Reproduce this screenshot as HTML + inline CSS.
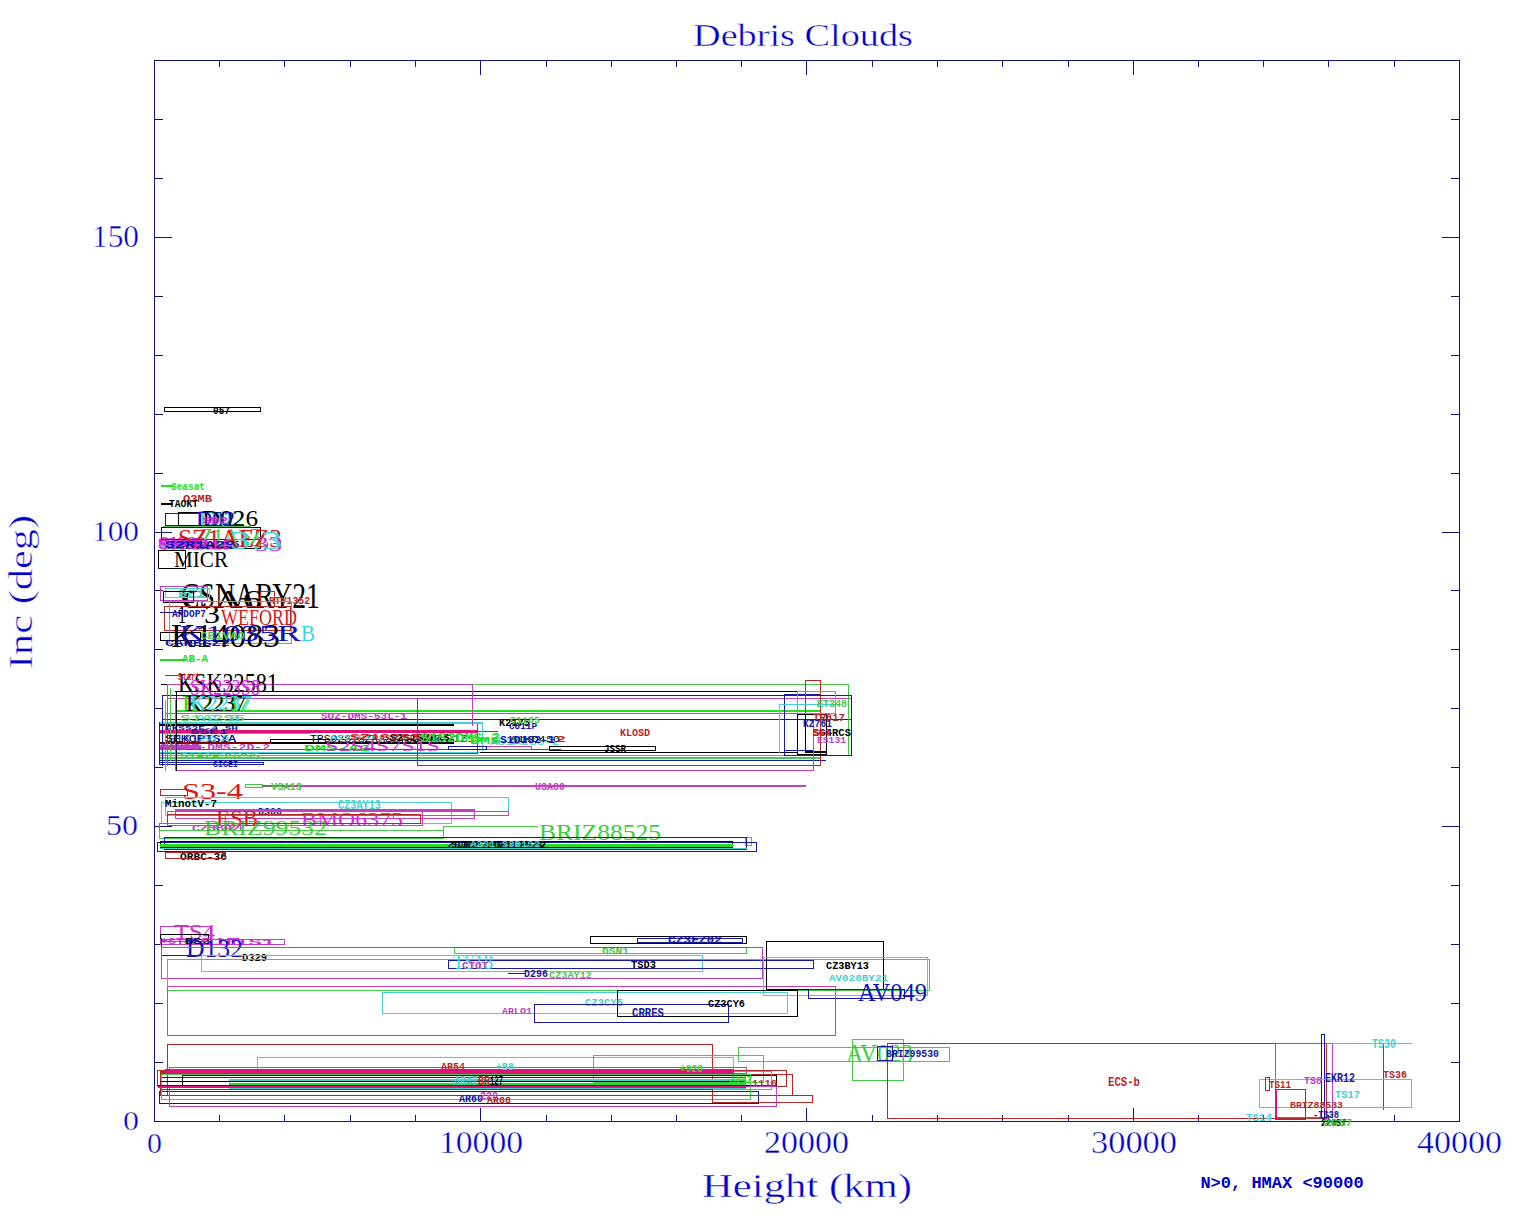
<!DOCTYPE html>
<html><head><meta charset="utf-8"><style>
html,body{margin:0;padding:0;background:#fff;width:1536px;height:1220px;overflow:hidden}
svg{display:block}
text{white-space:pre}
</style></head><body>
<svg width="1536" height="1220" viewBox="0 0 1536 1220" shape-rendering="crispEdges">
<rect x="0" y="0" width="1536" height="1220" fill="#fff"/>
<rect x="154.5" y="60.5" width="1305" height="1061" fill="none" stroke="#141478"/>
<rect x="219" y="60" width="1" height="7" fill="#141478"/>
<rect x="219" y="1115" width="1" height="7" fill="#141478"/>
<rect x="284" y="60" width="1" height="7" fill="#141478"/>
<rect x="284" y="1115" width="1" height="7" fill="#141478"/>
<rect x="350" y="60" width="1" height="7" fill="#141478"/>
<rect x="350" y="1115" width="1" height="7" fill="#141478"/>
<rect x="415" y="60" width="1" height="7" fill="#141478"/>
<rect x="415" y="1115" width="1" height="7" fill="#141478"/>
<rect x="480" y="60" width="1" height="15" fill="#141478"/>
<rect x="480" y="1108" width="1" height="14" fill="#141478"/>
<rect x="546" y="60" width="1" height="7" fill="#141478"/>
<rect x="546" y="1115" width="1" height="7" fill="#141478"/>
<rect x="611" y="60" width="1" height="7" fill="#141478"/>
<rect x="611" y="1115" width="1" height="7" fill="#141478"/>
<rect x="676" y="60" width="1" height="7" fill="#141478"/>
<rect x="676" y="1115" width="1" height="7" fill="#141478"/>
<rect x="741" y="60" width="1" height="7" fill="#141478"/>
<rect x="741" y="1115" width="1" height="7" fill="#141478"/>
<rect x="806" y="60" width="1" height="15" fill="#141478"/>
<rect x="806" y="1108" width="1" height="14" fill="#141478"/>
<rect x="872" y="60" width="1" height="7" fill="#141478"/>
<rect x="872" y="1115" width="1" height="7" fill="#141478"/>
<rect x="937" y="60" width="1" height="7" fill="#141478"/>
<rect x="937" y="1115" width="1" height="7" fill="#141478"/>
<rect x="1002" y="60" width="1" height="7" fill="#141478"/>
<rect x="1002" y="1115" width="1" height="7" fill="#141478"/>
<rect x="1068" y="60" width="1" height="7" fill="#141478"/>
<rect x="1068" y="1115" width="1" height="7" fill="#141478"/>
<rect x="1133" y="60" width="1" height="15" fill="#141478"/>
<rect x="1133" y="1108" width="1" height="14" fill="#141478"/>
<rect x="1198" y="60" width="1" height="7" fill="#141478"/>
<rect x="1198" y="1115" width="1" height="7" fill="#141478"/>
<rect x="1263" y="60" width="1" height="7" fill="#141478"/>
<rect x="1263" y="1115" width="1" height="7" fill="#141478"/>
<rect x="1328" y="60" width="1" height="7" fill="#141478"/>
<rect x="1328" y="1115" width="1" height="7" fill="#141478"/>
<rect x="1394" y="60" width="1" height="7" fill="#141478"/>
<rect x="1394" y="1115" width="1" height="7" fill="#141478"/>
<rect x="154" y="1062" width="9" height="1" fill="#141478"/>
<rect x="1451" y="1062" width="9" height="1" fill="#141478"/>
<rect x="154" y="1003" width="9" height="1" fill="#141478"/>
<rect x="1451" y="1003" width="9" height="1" fill="#141478"/>
<rect x="154" y="944" width="9" height="1" fill="#141478"/>
<rect x="1451" y="944" width="9" height="1" fill="#141478"/>
<rect x="154" y="885" width="9" height="1" fill="#141478"/>
<rect x="1451" y="885" width="9" height="1" fill="#141478"/>
<rect x="154" y="826" width="18" height="1" fill="#141478"/>
<rect x="1442" y="826" width="18" height="1" fill="#141478"/>
<rect x="154" y="767" width="9" height="1" fill="#141478"/>
<rect x="1451" y="767" width="9" height="1" fill="#141478"/>
<rect x="154" y="708" width="9" height="1" fill="#141478"/>
<rect x="1451" y="708" width="9" height="1" fill="#141478"/>
<rect x="154" y="649" width="9" height="1" fill="#141478"/>
<rect x="1451" y="649" width="9" height="1" fill="#141478"/>
<rect x="154" y="590" width="9" height="1" fill="#141478"/>
<rect x="1451" y="590" width="9" height="1" fill="#141478"/>
<rect x="154" y="532" width="18" height="1" fill="#141478"/>
<rect x="1442" y="532" width="18" height="1" fill="#141478"/>
<rect x="154" y="473" width="9" height="1" fill="#141478"/>
<rect x="1451" y="473" width="9" height="1" fill="#141478"/>
<rect x="154" y="414" width="9" height="1" fill="#141478"/>
<rect x="1451" y="414" width="9" height="1" fill="#141478"/>
<rect x="154" y="355" width="9" height="1" fill="#141478"/>
<rect x="1451" y="355" width="9" height="1" fill="#141478"/>
<rect x="154" y="296" width="9" height="1" fill="#141478"/>
<rect x="1451" y="296" width="9" height="1" fill="#141478"/>
<rect x="154" y="237" width="18" height="1" fill="#141478"/>
<rect x="1442" y="237" width="18" height="1" fill="#141478"/>
<rect x="154" y="178" width="9" height="1" fill="#141478"/>
<rect x="1451" y="178" width="9" height="1" fill="#141478"/>
<rect x="154" y="119" width="9" height="1" fill="#141478"/>
<rect x="1451" y="119" width="9" height="1" fill="#141478"/>
<text x="693" y="46" fill="#0000c8" stroke="#fff" stroke-width="0.4" font-size="31.3" font-family="Liberation Serif" textLength="220" lengthAdjust="spacingAndGlyphs">Debris Clouds</text>
<text x="92" y="247" fill="#0000c8" stroke="#fff" stroke-width="0.4" font-size="30.5" font-family="Liberation Serif" textLength="47" lengthAdjust="spacingAndGlyphs">150</text>
<text x="92" y="541" fill="#0000c8" stroke="#fff" stroke-width="0.4" font-size="29.8" font-family="Liberation Serif" textLength="47" lengthAdjust="spacingAndGlyphs">100</text>
<text x="106" y="835" fill="#0000c8" stroke="#fff" stroke-width="0.4" font-size="29.8" font-family="Liberation Serif" textLength="32" lengthAdjust="spacingAndGlyphs">50</text>
<text x="123" y="1130" fill="#0000c8" stroke="#fff" stroke-width="0.4" font-size="28.2" font-family="Liberation Serif" textLength="16" lengthAdjust="spacingAndGlyphs">0</text>
<text x="147" y="1153" fill="#0000c8" stroke="#fff" stroke-width="0.4" font-size="29.0" font-family="Liberation Serif" textLength="15" lengthAdjust="spacingAndGlyphs">0</text>
<text x="439" y="1153" fill="#0000c8" stroke="#fff" stroke-width="0.4" font-size="30.5" font-family="Liberation Serif" textLength="84" lengthAdjust="spacingAndGlyphs">10000</text>
<text x="764" y="1153" fill="#0000c8" stroke="#fff" stroke-width="0.4" font-size="30.5" font-family="Liberation Serif" textLength="85" lengthAdjust="spacingAndGlyphs">20000</text>
<text x="1091" y="1153" fill="#0000c8" stroke="#fff" stroke-width="0.4" font-size="30.5" font-family="Liberation Serif" textLength="86" lengthAdjust="spacingAndGlyphs">30000</text>
<text x="1417" y="1153" fill="#0000c8" stroke="#fff" stroke-width="0.4" font-size="30.5" font-family="Liberation Serif" textLength="85" lengthAdjust="spacingAndGlyphs">40000</text>
<text x="702" y="1197" fill="#0000c8" stroke="#fff" stroke-width="0.4" font-size="33.6" font-family="Liberation Serif" textLength="210" lengthAdjust="spacingAndGlyphs">Height (km)</text>
<text transform="translate(32,669) rotate(-90)" x="0" y="0" fill="#0000c8" stroke="#fff" stroke-width="0.5" font-size="33.6" font-family="Liberation Serif" textLength="154" lengthAdjust="spacingAndGlyphs">Inc (deg)</text>
<text x="1282" y="1188" fill="#0000c8" font-size="17" font-family="Liberation Mono" text-anchor="middle" font-weight="bold">N&gt;0, HMAX &lt;90000</text>
<rect x="167.5" y="1044.5" width="545" height="51" fill="none" stroke="#b42828"/>
<rect x="257.5" y="1057.5" width="476" height="16" fill="none" stroke="#48d0d0"/>
<rect x="593.5" y="1055.5" width="170" height="27" fill="none" stroke="#48c848"/>
<rect x="738.5" y="1047.5" width="211" height="14" fill="none" stroke="#48c848"/>
<rect x="852.5" y="1039.5" width="51" height="41" fill="none" stroke="#48c848"/>
<rect x="169.5" y="1067.5" width="577" height="6" fill="none" stroke="#c040c0"/>
<rect x="182.5" y="1075.5" width="594" height="10" fill="none" stroke="#000000"/>
<rect x="160" y="1077" width="586" height="1" fill="#1818a0"/>
<rect x="229.5" y="1080.5" width="516" height="8" fill="none" stroke="#48d0d0"/>
<rect x="229" y="1083" width="517" height="2" fill="#20e020"/>
<rect x="157.5" y="1070.5" width="629" height="16" fill="none" stroke="#b42828"/>
<rect x="160.5" y="1074.5" width="632" height="21" fill="none" stroke="#b42828"/>
<rect x="159.5" y="1091.5" width="599" height="12" fill="none" stroke="#1818a0"/>
<rect x="161.5" y="1074.5" width="589" height="25" fill="none" stroke="#48c848"/>
<rect x="712.5" y="1095.5" width="100" height="7" fill="none" stroke="#b42828"/>
<rect x="159" y="1103" width="600" height="1" fill="#500050"/>
<rect x="169.5" y="1086.5" width="607" height="20" fill="none" stroke="#c040c0"/>
<rect x="161.5" y="1071.5" width="610" height="18" fill="none" stroke="#48c848"/>
<rect x="165" y="1069" width="569" height="5" fill="#e0107a"/>
<rect x="160" y="1070" width="6" height="4" fill="#b42828"/>
<rect x="158" y="1085" width="588" height="1" fill="#600060"/>
<rect x="158" y="1086" width="588" height="2" fill="#e0107a"/>
<rect x="160" y="1081" width="586" height="1" fill="#000000"/>
<rect x="160" y="1089" width="553" height="1" fill="#404080"/>
<rect x="229" y="1079" width="517" height="2" fill="#48d0d0"/>
<text x="441" y="1070" fill="#b42828" font-size="10.6" font-family="Liberation Mono" font-weight="bold" textLength="24" lengthAdjust="spacingAndGlyphs">AR54</text>
<text x="496" y="1070" fill="#48d0d0" font-size="10.6" font-family="Liberation Mono" font-weight="bold" textLength="18" lengthAdjust="spacingAndGlyphs">+B8</text>
<text x="680" y="1072" fill="#48c848" font-size="10.6" font-family="Liberation Mono" font-weight="bold" textLength="23" lengthAdjust="spacingAndGlyphs">+928</text>
<text x="454" y="1085" fill="#48d0d0" font-size="12.1" font-family="Liberation Mono" font-weight="bold" textLength="24" lengthAdjust="spacingAndGlyphs">AR47</text>
<text x="478" y="1085" fill="#b42828" font-size="12.1" font-family="Liberation Mono" font-weight="bold" textLength="12" lengthAdjust="spacingAndGlyphs">BR</text>
<text x="490" y="1085" fill="#000000" font-size="12.1" font-family="Liberation Mono" font-weight="bold" textLength="13" lengthAdjust="spacingAndGlyphs">127</text>
<text x="459" y="1102" fill="#1818a0" font-size="10.6" font-family="Liberation Mono" font-weight="bold" textLength="24" lengthAdjust="spacingAndGlyphs">AR60</text>
<text x="480" y="1099" fill="#c040c0" font-size="10.6" font-family="Liberation Mono" font-weight="bold" textLength="18" lengthAdjust="spacingAndGlyphs">220</text>
<text x="487" y="1103" fill="#b42828" font-size="9.1" font-family="Liberation Mono" font-weight="bold" textLength="24" lengthAdjust="spacingAndGlyphs">AR88</text>
<text x="730" y="1083" fill="#20e020" font-size="10.6" font-family="Liberation Mono" font-weight="bold" textLength="22" lengthAdjust="spacingAndGlyphs">AV47</text>
<text x="752" y="1086" fill="#b42828" font-size="9.1" font-family="Liberation Mono" font-weight="bold" textLength="25" lengthAdjust="spacingAndGlyphs">1116</text>
<rect x="887.5" y="1043.5" width="439" height="75" fill="none" stroke="#b42828"/>
<rect x="1383" y="1043" width="1" height="67" fill="#b42828"/>
<rect x="1275.5" y="1043.5" width="57" height="74" fill="none" stroke="#c040c0"/>
<rect x="1321.5" y="1034.5" width="3" height="84" fill="none" stroke="#1818a0"/>
<rect x="1332" y="1043" width="80" height="1" fill="#48d0d0"/>
<rect x="1259.5" y="1079.5" width="152" height="28" fill="none" stroke="#48d0d0"/>
<rect x="1265.5" y="1077.5" width="4" height="13" fill="none" stroke="#b42828"/>
<rect x="1275.5" y="1089.5" width="30" height="29" fill="none" stroke="#b42828"/>
<rect x="1275" y="1089" width="2" height="30" fill="#e0107a"/>
<text x="1269" y="1088" fill="#b42828" font-size="10.6" font-family="Liberation Mono" font-weight="bold" textLength="22" lengthAdjust="spacingAndGlyphs">TS11</text>
<text x="1304" y="1084" fill="#c040c0" font-size="10.6" font-family="Liberation Mono" font-weight="bold" textLength="18" lengthAdjust="spacingAndGlyphs">TS8</text>
<text x="1325" y="1082" fill="#1818a0" font-size="12.1" font-family="Liberation Mono" font-weight="bold" textLength="30" lengthAdjust="spacingAndGlyphs">EKR12</text>
<text x="1335" y="1098" fill="#48d0d0" font-size="10.6" font-family="Liberation Mono" font-weight="bold" textLength="25" lengthAdjust="spacingAndGlyphs">TS17</text>
<text x="1383" y="1078" fill="#b42828" font-size="10.6" font-family="Liberation Mono" font-weight="bold" textLength="24" lengthAdjust="spacingAndGlyphs">TS36</text>
<text x="1372" y="1048" fill="#48d0d0" font-size="12.1" font-family="Liberation Mono" font-weight="bold" textLength="24" lengthAdjust="spacingAndGlyphs">TS30</text>
<text x="1290" y="1108" fill="#b42828" font-size="9.1" font-family="Liberation Mono" font-weight="bold" textLength="53" lengthAdjust="spacingAndGlyphs">BRIZ88533</text>
<text x="1313" y="1118" fill="#1818a0" font-size="10.6" font-family="Liberation Mono" font-weight="bold" textLength="26" lengthAdjust="spacingAndGlyphs">-TS38</text>
<text x="1246" y="1121" fill="#48d0d0" font-size="10.6" font-family="Liberation Mono" font-weight="bold" textLength="26" lengthAdjust="spacingAndGlyphs">TS14</text>
<text x="1321" y="1126" fill="#000000" font-size="10.6" font-family="Liberation Mono" font-weight="bold" textLength="25" lengthAdjust="spacingAndGlyphs">22GS7</text>
<text x="1323" y="1126" fill="#38d038" font-size="10.6" font-family="Liberation Mono" font-weight="bold" textLength="23" lengthAdjust="spacingAndGlyphs">2GS</text>
<text x="1346" y="1126" fill="#38d038" font-size="10.6" font-family="Liberation Mono" font-weight="bold" textLength="6" lengthAdjust="spacingAndGlyphs">7</text>
<rect x="1275" y="1119" width="31" height="1" fill="#b42828"/>
<text x="846" y="1062" fill="#38d038" font-size="24.4" font-family="Liberation Serif" textLength="67" lengthAdjust="spacingAndGlyphs">AV023</text>
<rect x="877.5" y="1046.5" width="15" height="14" fill="none" stroke="#1818a0"/>
<text x="886" y="1057" fill="#1818a0" font-size="10.6" font-family="Liberation Mono" font-weight="bold" textLength="53" lengthAdjust="spacingAndGlyphs">BRIZ99530</text>
<text x="1108" y="1086" fill="#b42828" font-size="12.1" font-family="Liberation Mono" font-weight="bold" textLength="32" lengthAdjust="spacingAndGlyphs">ECS-b</text>
<rect x="160.5" y="926.5" width="50" height="15" fill="none" stroke="#c040c0"/>
<text x="174" y="939" fill="#d828d8" font-size="21.4" font-family="Liberation Serif" textLength="41" lengthAdjust="spacingAndGlyphs">TS4</text>
<rect x="160.5" y="934.5" width="48" height="10" fill="none" stroke="#000000"/>
<rect x="160.5" y="939.5" width="124" height="5" fill="none" stroke="#c040c0"/>
<text x="160" y="944" fill="#d828d8" font-size="9.1" font-family="Liberation Mono" font-weight="bold" textLength="40" lengthAdjust="spacingAndGlyphs">+STS2</text>
<text x="185" y="944" fill="#000000" font-size="9.1" font-family="Liberation Mono" font-weight="bold" textLength="25" lengthAdjust="spacingAndGlyphs">BS2</text>
<text x="200" y="945" fill="#d828d8" font-size="10.6" font-family="Liberation Mono" font-weight="bold" textLength="40" lengthAdjust="spacingAndGlyphs">S1T</text>
<text x="222" y="945" fill="#d828d8" font-size="9.1" font-family="Liberation Mono" font-weight="bold" textLength="53" lengthAdjust="spacingAndGlyphs">T1S1</text>
<rect x="161" y="955" width="80" height="1" fill="#1818a0"/>
<rect x="161" y="938" width="1" height="18" fill="#1818a0"/>
<text x="186" y="957" fill="#1010c0" font-size="24.4" font-family="Liberation Serif" textLength="57" lengthAdjust="spacingAndGlyphs">D132</text>
<text x="242" y="961" fill="#000000" font-size="10.6" font-family="Liberation Mono" font-weight="bold" textLength="25" lengthAdjust="spacingAndGlyphs">D329</text>
<rect x="161.5" y="947.5" width="601" height="31" fill="none" stroke="#c040c0"/>
<rect x="201.5" y="955.5" width="501" height="16" fill="none" stroke="#48d0d0"/>
<rect x="167.5" y="959.5" width="762" height="31" fill="none" stroke="#48c848"/>
<rect x="167.5" y="986.5" width="668" height="49" fill="none" stroke="#c040c0"/>
<rect x="382.5" y="992.5" width="405" height="21" fill="none" stroke="#48d0d0"/>
<rect x="590.5" y="936.5" width="156" height="7" fill="none" stroke="#000000"/>
<rect x="637.5" y="938.5" width="105" height="4" fill="none" stroke="#1818a0"/>
<text x="668" y="943" fill="#1818a0" font-size="10.6" font-family="Liberation Mono" font-weight="bold" textLength="54" lengthAdjust="spacingAndGlyphs">CZ3EZ02</text>
<rect x="454.5" y="947.5" width="292" height="6" fill="none" stroke="#48c848"/>
<rect x="454" y="947" width="293" height="1" fill="#606060"/>
<text x="602" y="954" fill="#48c848" font-size="9.1" font-family="Liberation Mono" font-weight="bold" textLength="27" lengthAdjust="spacingAndGlyphs">DSN1</text>
<rect x="448.5" y="960.5" width="365" height="8" fill="none" stroke="#1818a0"/>
<text x="453" y="969" fill="#38d8e0" font-size="21.4" font-family="Liberation Serif" textLength="40" lengthAdjust="spacingAndGlyphs">TS18</text>
<text x="462" y="969" fill="#c040c0" font-size="10.6" font-family="Liberation Mono" font-weight="bold" textLength="26" lengthAdjust="spacingAndGlyphs">CTOT</text>
<text x="631" y="968" fill="#000000" font-size="10.6" font-family="Liberation Mono" font-weight="bold" textLength="25" lengthAdjust="spacingAndGlyphs">TSD3</text>
<rect x="508" y="973" width="17" height="1" fill="#1818a0"/>
<text x="524" y="977" fill="#1818a0" font-size="10.6" font-family="Liberation Mono" font-weight="bold" textLength="24" lengthAdjust="spacingAndGlyphs">D296</text>
<text x="549" y="978" fill="#48c848" font-size="9.1" font-family="Liberation Mono" font-weight="bold" textLength="43" lengthAdjust="spacingAndGlyphs">CZ3AY12</text>
<rect x="766.5" y="941.5" width="117" height="48" fill="none" stroke="#000000"/>
<rect x="763.5" y="957.5" width="164" height="38" fill="none" stroke="#48d0d0"/>
<text x="826" y="969" fill="#000000" font-size="10.6" font-family="Liberation Mono" font-weight="bold" textLength="43" lengthAdjust="spacingAndGlyphs">CZ3BY13</text>
<text x="829" y="981" fill="#48d0d0" font-size="9.1" font-family="Liberation Mono" font-weight="bold" textLength="59" lengthAdjust="spacingAndGlyphs">AV028BY21</text>
<text x="858" y="1001" fill="#1010c0" font-size="24.4" font-family="Liberation Serif" textLength="69" lengthAdjust="spacingAndGlyphs">AV049</text>
<rect x="808.5" y="989.5" width="96" height="9" fill="none" stroke="#1818a0"/>
<rect x="617.5" y="990.5" width="180" height="26" fill="none" stroke="#000000"/>
<text x="585" y="1006" fill="#48d0d0" font-size="10.6" font-family="Liberation Mono" font-weight="bold" textLength="38" lengthAdjust="spacingAndGlyphs">CZ3CY5</text>
<rect x="534.5" y="1004.5" width="194" height="18" fill="none" stroke="#1818a0"/>
<text x="502" y="1014" fill="#c040c0" font-size="9.1" font-family="Liberation Mono" font-weight="bold" textLength="30" lengthAdjust="spacingAndGlyphs">ARLO1</text>
<text x="632" y="1017" fill="#1818a0" font-size="12.1" font-family="Liberation Mono" font-weight="bold" textLength="32" lengthAdjust="spacingAndGlyphs">CRRES</text>
<text x="708" y="1007" fill="#000000" font-size="10.6" font-family="Liberation Mono" font-weight="bold" textLength="37" lengthAdjust="spacingAndGlyphs">CZ3CY6</text>
<text x="182" y="799" fill="#d81818" font-size="22.9" font-family="Liberation Serif" textLength="61" lengthAdjust="spacingAndGlyphs">S3-4</text>
<rect x="160.5" y="789.5" width="27" height="6" fill="none" stroke="#b42828"/>
<rect x="245.5" y="784.5" width="17" height="3" fill="none" stroke="#48c848"/>
<rect x="262" y="785" width="29" height="2" fill="#707070"/>
<rect x="290" y="785" width="516" height="2" fill="#c040c0"/>
<text x="271" y="790" fill="#48c848" font-size="10.6" font-family="Liberation Mono" font-weight="bold" textLength="31" lengthAdjust="spacingAndGlyphs">VSA13</text>
<text x="535" y="790" fill="#c040c0" font-size="10.6" font-family="Liberation Mono" font-weight="bold" textLength="30" lengthAdjust="spacingAndGlyphs">USA80</text>
<rect x="165.5" y="797.5" width="343" height="18" fill="none" stroke="#48d0d0"/>
<rect x="161.5" y="802.5" width="290" height="21" fill="none" stroke="#48d0d0"/>
<text x="165" y="807" fill="#000000" font-size="10.6" font-family="Liberation Mono" font-weight="bold" textLength="52" lengthAdjust="spacingAndGlyphs">MinotV-7</text>
<text x="338" y="809" fill="#48d0d0" font-size="12.1" font-family="Liberation Mono" font-weight="bold" textLength="43" lengthAdjust="spacingAndGlyphs">CZ3AY13</text>
<text x="258" y="815" fill="#1818a0" font-size="10.6" font-family="Liberation Mono" font-weight="bold" textLength="24" lengthAdjust="spacingAndGlyphs">D300</text>
<rect x="175.5" y="809.5" width="299" height="9" fill="none" stroke="#c040c0"/>
<rect x="175" y="810" width="300" height="1" fill="#c040c0"/>
<rect x="175.5" y="811.5" width="333" height="4" fill="none" stroke="#c040c0"/>
<rect x="167.5" y="811.5" width="255" height="14" fill="none" stroke="#c040c0"/>
<text x="301" y="826" fill="#d828d8" font-size="18.3" font-family="Liberation Serif" textLength="102" lengthAdjust="spacingAndGlyphs">BMO6375</text>
<text x="216" y="826" fill="#d81818" font-size="22.9" font-family="Liberation Serif" textLength="42" lengthAdjust="spacingAndGlyphs">ESB</text>
<text x="204" y="835" fill="#38d038" font-size="21.4" font-family="Liberation Serif" textLength="123" lengthAdjust="spacingAndGlyphs">BRIZ99532</text>
<rect x="167.5" y="814.5" width="253" height="9" fill="none" stroke="#b42828"/>
<rect x="159.5" y="823.5" width="81" height="7" fill="none" stroke="#c040c0"/>
<text x="192" y="831" fill="#c040c0" font-size="9.1" font-family="Liberation Mono" font-weight="bold" textLength="48" lengthAdjust="spacingAndGlyphs">CZ3BD2</text>
<rect x="159.5" y="830.5" width="284" height="8" fill="none" stroke="#48c848"/>
<rect x="443" y="826" width="95" height="1" fill="#48c848"/>
<rect x="443" y="826" width="1" height="13" fill="#48c848"/>
<rect x="745.5" y="837.5" width="6" height="8" fill="none" stroke="#48c848"/>
<text x="539" y="840" fill="#38d038" font-size="22.9" font-family="Liberation Serif" textLength="122" lengthAdjust="spacingAndGlyphs">BRIZ88525</text>
<rect x="164.5" y="837.5" width="582" height="12" fill="none" stroke="#1818a0"/>
<rect x="157.5" y="842.5" width="599" height="9" fill="none" stroke="#1818a0"/>
<rect x="160.5" y="841.5" width="572" height="6" fill="none" stroke="#000000"/>
<rect x="160" y="844" width="573" height="3" fill="#20e020"/>
<rect x="160" y="848" width="587" height="1" fill="#48d0d0"/>
<text x="180" y="860" fill="#000000" font-size="10.6" font-family="Liberation Mono" font-weight="bold" textLength="47" lengthAdjust="spacingAndGlyphs">ORBC-36</text>
<rect x="165.5" y="852.5" width="60" height="6" fill="none" stroke="#b42828"/>
<text x="447" y="848" fill="#1818a0" font-size="9.1" font-family="Liberation Mono" font-weight="bold" textLength="99" lengthAdjust="spacingAndGlyphs">ZSTO1A2A3TRSZ2</text>
<text x="452" y="848" fill="#000000" font-size="10.6" font-family="Liberation Mono" font-weight="bold" textLength="94" lengthAdjust="spacingAndGlyphs">S1DKS2 1DRSKS3 TPS2S2</text>
<text x="470" y="847" fill="#48d0d0" font-size="9.1" font-family="Liberation Mono" font-weight="bold" textLength="70" lengthAdjust="spacingAndGlyphs">A2S1 S3D1S2</text>
<rect x="161" y="684" width="15" height="1" fill="#000000"/>
<rect x="167" y="684" width="306" height="1" fill="#c040c0"/>
<rect x="472" y="684" width="377" height="1" fill="#48c848"/>
<rect x="175" y="691" width="623" height="1" fill="#000000"/>
<rect x="162" y="695" width="690" height="1" fill="#1818a0"/>
<rect x="784" y="694" width="37" height="1" fill="#1818a0"/>
<rect x="417" y="698" width="404" height="1" fill="#b42828"/>
<rect x="167" y="698" width="685" height="1" fill="#c040c0"/>
<rect x="175" y="710" width="646" height="2" fill="#20e020"/>
<rect x="165" y="713" width="671" height="1" fill="#c040c0"/>
<rect x="162" y="719" width="690" height="1" fill="#1818a0"/>
<rect x="160" y="722" width="323" height="2" fill="#48d0d0"/>
<rect x="160" y="724" width="294" height="2" fill="#000000"/>
<rect x="160" y="730" width="317" height="3" fill="#e0107a"/>
<rect x="476" y="731" width="22" height="1" fill="#b42828"/>
<rect x="160" y="733" width="151" height="1" fill="#48c848"/>
<rect x="270.5" y="739.5" width="183" height="4" fill="none" stroke="#000000"/>
<rect x="270" y="742" width="184" height="2" fill="#000000"/>
<rect x="160" y="742" width="111" height="2" fill="#800000"/>
<rect x="160" y="745" width="41" height="4" fill="#c040c0"/>
<rect x="160" y="749" width="401" height="1" fill="#b42828"/>
<rect x="160" y="752" width="321" height="1" fill="#48d0d0"/>
<rect x="480" y="752" width="318" height="1" fill="#000000"/>
<rect x="160" y="753" width="317" height="1" fill="#b42828"/>
<rect x="160" y="755" width="689" height="1" fill="#48c848"/>
<rect x="160" y="757" width="661" height="2" fill="#48c848"/>
<rect x="160" y="760" width="666" height="1" fill="#1818a0"/>
<rect x="159.5" y="762.5" width="104" height="2" fill="none" stroke="#1818a0"/>
<rect x="417" y="765" width="404" height="1" fill="#b42828"/>
<rect x="175" y="770" width="639" height="1" fill="#c040c0"/>
<rect x="162" y="695" width="1" height="71" fill="#1818a0"/>
<rect x="167" y="684" width="1" height="82" fill="#c040c0"/>
<rect x="170" y="688" width="1" height="73" fill="#48c848"/>
<rect x="176" y="691" width="1" height="80" fill="#000000"/>
<rect x="175" y="700" width="1" height="71" fill="#c040c0"/>
<rect x="159" y="722" width="1" height="43" fill="#1818a0"/>
<rect x="165" y="700" width="1" height="71" fill="#48c848"/>
<rect x="472" y="684" width="1" height="42" fill="#c040c0"/>
<rect x="417" y="698" width="1" height="68" fill="#b42828"/>
<rect x="477" y="724" width="1" height="30" fill="#b42828"/>
<rect x="482" y="724" width="1" height="27" fill="#48d0d0"/>
<rect x="805" y="680" width="16" height="1" fill="#b42828"/>
<rect x="805" y="680" width="1" height="33" fill="#b42828"/>
<rect x="820" y="680" width="1" height="86" fill="#b42828"/>
<rect x="848" y="684" width="1" height="72" fill="#48c848"/>
<rect x="784.5" y="695.5" width="67" height="60" fill="none" stroke="#1818a0"/>
<rect x="784" y="750" width="29" height="1" fill="#1818a0"/>
<rect x="797.5" y="691.5" width="38" height="22" fill="none" stroke="#48c848"/>
<rect x="779" y="704" width="1" height="49" fill="#48d0d0"/>
<rect x="779" y="704" width="57" height="1" fill="#48d0d0"/>
<rect x="797.5" y="714.5" width="29" height="40" fill="none" stroke="#000000"/>
<rect x="805" y="714" width="1" height="38" fill="#000000"/>
<rect x="805" y="751" width="22" height="2" fill="#000000"/>
<rect x="813" y="720" width="1" height="51" fill="#c040c0"/>
<rect x="549.5" y="746.5" width="106" height="4" fill="none" stroke="#000000"/>
<rect x="486.5" y="746.5" width="45" height="3" fill="none" stroke="#c040c0"/>
<rect x="448.5" y="746.5" width="38" height="3" fill="none" stroke="#1818a0"/>
<text x="604" y="752" fill="#000000" font-size="10.6" font-family="Liberation Mono" font-weight="bold" textLength="22" lengthAdjust="spacingAndGlyphs">JSSR</text>
<text x="620" y="736" fill="#b42828" font-size="10.6" font-family="Liberation Mono" font-weight="bold" textLength="30" lengthAdjust="spacingAndGlyphs">KLOSD</text>
<text x="817" y="707" fill="#48c848" font-size="10.6" font-family="Liberation Mono" font-weight="bold" textLength="30" lengthAdjust="spacingAndGlyphs">ET348</text>
<text x="813" y="721" fill="#b42828" font-size="10.6" font-family="Liberation Mono" font-weight="bold" textLength="32" lengthAdjust="spacingAndGlyphs">TR817</text>
<text x="803" y="727" fill="#1818a0" font-size="10.6" font-family="Liberation Mono" font-weight="bold" textLength="29" lengthAdjust="spacingAndGlyphs">KZ761</text>
<text x="813" y="736" fill="#000000" font-size="10.6" font-family="Liberation Mono" font-weight="bold" textLength="38" lengthAdjust="spacingAndGlyphs">SG4RCS</text>
<text x="813" y="736" fill="#d81818" font-size="10.6" font-family="Liberation Mono" font-weight="bold" textLength="17" lengthAdjust="spacingAndGlyphs">SG4</text>
<text x="817" y="743" fill="#c040c0" font-size="9.1" font-family="Liberation Mono" font-weight="bold" textLength="29" lengthAdjust="spacingAndGlyphs">ES131</text>
<text x="499" y="726" fill="#000000" font-size="10.6" font-family="Liberation Mono" font-weight="bold" textLength="31" lengthAdjust="spacingAndGlyphs">K2175</text>
<text x="510" y="723" fill="#48c848" font-size="9.1" font-family="Liberation Mono" font-weight="bold" textLength="30" lengthAdjust="spacingAndGlyphs">C1185</text>
<text x="509" y="729" fill="#1818a0" font-size="9.1" font-family="Liberation Mono" font-weight="bold" textLength="28" lengthAdjust="spacingAndGlyphs">C811P</text>
<text x="321" y="719" fill="#c040c0" font-size="9.1" font-family="Liberation Mono" font-weight="bold" textLength="86" lengthAdjust="spacingAndGlyphs">SOZ-DMS-53L-1</text>
<text x="178" y="692" fill="#000000" font-size="27.5" font-family="Liberation Serif" textLength="100" lengthAdjust="spacingAndGlyphs">KSK32581</text>
<text x="190" y="695" fill="#d828d8" font-size="22.9" font-family="Liberation Serif" textLength="70" lengthAdjust="spacingAndGlyphs">SK223S8</text>
<text x="182" y="711" fill="#20e020" font-size="22.9" font-family="Liberation Serif" textLength="68" lengthAdjust="spacingAndGlyphs">K2237</text>
<text x="186" y="711" fill="#000000" font-size="22.9" font-family="Liberation Serif" textLength="60" lengthAdjust="spacingAndGlyphs">K2237</text>
<text x="190" y="710" fill="#38d8e0" font-size="21.4" font-family="Liberation Serif" textLength="62" lengthAdjust="spacingAndGlyphs">K2237</text>
<text x="180" y="721" fill="#48c848" font-size="9.1" font-family="Liberation Mono" font-weight="normal" textLength="65" lengthAdjust="spacingAndGlyphs">S1A2S5</text>
<text x="195" y="721" fill="#48d0d0" font-size="9.1" font-family="Liberation Mono" font-weight="normal" textLength="45" lengthAdjust="spacingAndGlyphs">A2 S</text>
<text x="165" y="730" fill="#1818a0" font-size="6.1" font-family="Liberation Mono" font-weight="bold" textLength="73" lengthAdjust="spacingAndGlyphs">EKSS3E-4 SH</text>
<text x="165" y="742" fill="#000000" font-size="10.6" font-family="Liberation Mono" font-weight="normal" textLength="71" lengthAdjust="spacingAndGlyphs">SEKOPTSYA</text>
<text x="168" y="742" fill="#1010c0" font-size="10.6" font-family="Liberation Mono" font-weight="normal" textLength="68" lengthAdjust="spacingAndGlyphs">S1K1P1S1A</text>
<text x="200" y="742" fill="#38d8e0" font-size="10.6" font-family="Liberation Mono" font-weight="normal" textLength="30" lengthAdjust="spacingAndGlyphs">SYA</text>
<text x="190" y="734" fill="#1818a0" font-size="7.6" font-family="Liberation Mono" font-weight="bold" textLength="38" lengthAdjust="spacingAndGlyphs">SSE1</text>
<text x="310" y="742" fill="#000000" font-size="10.6" font-family="Liberation Mono" font-weight="normal" textLength="130" lengthAdjust="spacingAndGlyphs">TPSO2S1SZRASSTS2ONR</text>
<text x="330" y="740" fill="#48d0d0" font-size="7.6" font-family="Liberation Mono" font-weight="bold" textLength="110" lengthAdjust="spacingAndGlyphs">AS1SF1C2TRSFR1S2</text>
<text x="445" y="742" fill="#000000" font-size="10.6" font-family="Liberation Mono" font-weight="normal" textLength="30" lengthAdjust="spacingAndGlyphs">S1Z1</text>
<text x="470" y="744" fill="#20e020" font-size="10.6" font-family="Liberation Mono" font-weight="bold" textLength="50" lengthAdjust="spacingAndGlyphs">DMS-2</text>
<text x="490" y="745" fill="#48d0d0" font-size="10.6" font-family="Liberation Mono" font-weight="normal" textLength="70" lengthAdjust="spacingAndGlyphs">AD1A2S3-2</text>
<text x="510" y="742" fill="#000000" font-size="9.1" font-family="Liberation Mono" font-weight="normal" textLength="50" lengthAdjust="spacingAndGlyphs">A1KD4SO</text>
<text x="556" y="742" fill="#d81818" font-size="9.1" font-family="Liberation Mono" font-weight="bold" textLength="10" lengthAdjust="spacingAndGlyphs">2</text>
<text x="160" y="750" fill="#c040c0" font-size="9.1" font-family="Liberation Mono" font-weight="bold" textLength="110" lengthAdjust="spacingAndGlyphs">SAMPT-DMS-2D-2</text>
<text x="304" y="751" fill="#20e020" font-size="9.1" font-family="Liberation Mono" font-weight="bold" textLength="66" lengthAdjust="spacingAndGlyphs">DMS-A2</text>
<text x="325" y="751" fill="#d828d8" font-size="13.7" font-family="Liberation Serif" textLength="115" lengthAdjust="spacingAndGlyphs">S2S4S7S1S</text>
<text x="180" y="758" fill="#48c848" font-size="7.6" font-family="Liberation Mono" font-weight="bold" textLength="80" lengthAdjust="spacingAndGlyphs">S1A2A3S2S5</text>
<text x="213" y="767" fill="#1818a0" font-size="9.1" font-family="Liberation Mono" font-weight="bold" textLength="25" lengthAdjust="spacingAndGlyphs">SIGEI</text>
<text x="181" y="608" fill="#000000" font-size="36.6" font-family="Liberation Serif" textLength="139" lengthAdjust="spacingAndGlyphs">CSNARY21</text>
<text x="182" y="608" fill="#000000" font-size="26.0" font-family="Liberation Serif" textLength="80" lengthAdjust="spacingAndGlyphs">C A6</text>
<text x="204" y="623" fill="#000000" font-size="24.4" font-family="Liberation Serif" textLength="16" lengthAdjust="spacingAndGlyphs">3</text>
<text x="178" y="623" fill="#000000" font-size="24.4" font-family="Liberation Serif" textLength="8" lengthAdjust="spacingAndGlyphs">1</text>
<text x="221" y="625" fill="#d81818" font-size="22.9" font-family="Liberation Serif" textLength="76" lengthAdjust="spacingAndGlyphs">WEFORD</text>
<rect x="260.5" y="591.5" width="14" height="15" fill="none" stroke="#b42828"/>
<text x="269" y="604" fill="#b42828" font-size="10.6" font-family="Liberation Mono" font-weight="bold" textLength="41" lengthAdjust="spacingAndGlyphs">RTV1352</text>
<rect x="160.5" y="586.5" width="47" height="14" fill="none" stroke="#c040c0"/>
<rect x="165.5" y="588.5" width="44" height="9" fill="none" stroke="#48d0d0"/>
<text x="178" y="597" fill="#48d0d0" font-size="10.6" font-family="Liberation Mono" font-weight="bold" textLength="27" lengthAdjust="spacingAndGlyphs">BE1</text>
<rect x="163.5" y="591.5" width="30" height="11" fill="none" stroke="#000000"/>
<rect x="165" y="601" width="126" height="1" fill="#48c848"/>
<rect x="164.5" y="606.5" width="126" height="24" fill="none" stroke="#b42828"/>
<rect x="169.5" y="601.5" width="122" height="42" fill="none" stroke="#48c848"/>
<rect x="160" y="612" width="21" height="1" fill="#1818a0"/>
<text x="172" y="617" fill="#1818a0" font-size="10.6" font-family="Liberation Mono" font-weight="bold" textLength="34" lengthAdjust="spacingAndGlyphs">ARDOP7</text>
<text x="171" y="647" fill="#000000" font-size="33.6" font-family="Liberation Serif" textLength="109" lengthAdjust="spacingAndGlyphs">K14083</text>
<text x="179" y="641" fill="#1010c0" font-size="22.9" font-family="Liberation Serif" textLength="122" lengthAdjust="spacingAndGlyphs">K1035R</text>
<text x="301" y="641" fill="#38d8e0" font-size="22.9" font-family="Liberation Serif" textLength="14" lengthAdjust="spacingAndGlyphs">B</text>
<text x="200" y="639" fill="#48c848" font-size="10.6" font-family="Liberation Mono" font-weight="bold" textLength="45" lengthAdjust="spacingAndGlyphs">CE1VAO</text>
<rect x="160.5" y="632.5" width="40" height="8" fill="none" stroke="#000000"/>
<text x="165" y="646" fill="#1818a0" font-size="9.1" font-family="Liberation Mono" font-weight="bold" textLength="65" lengthAdjust="spacingAndGlyphs">CARBSZ2</text>
<rect x="160" y="659" width="26" height="2" fill="#20e020"/>
<text x="182" y="662" fill="#20e020" font-size="10.6" font-family="Liberation Mono" font-weight="bold" textLength="26" lengthAdjust="spacingAndGlyphs">AB-A</text>
<rect x="164.5" y="407.5" width="96" height="4" fill="none" stroke="#000000"/>
<text x="213" y="414" fill="#000000" font-size="10.6" font-family="Liberation Mono" font-weight="bold" textLength="17" lengthAdjust="spacingAndGlyphs">057</text>
<rect x="161" y="485" width="12" height="2" fill="#20e020"/>
<text x="171" y="490" fill="#20e020" font-size="10.6" font-family="Liberation Mono" font-weight="bold" textLength="34" lengthAdjust="spacingAndGlyphs">Seasat</text>
<text x="183" y="502" fill="#b42828" font-size="10.6" font-family="Liberation Mono" font-weight="bold" textLength="29" lengthAdjust="spacingAndGlyphs">O3MB</text>
<rect x="161" y="503" width="12" height="2" fill="#000000"/>
<text x="169" y="507" fill="#000000" font-size="10.6" font-family="Liberation Mono" font-weight="bold" textLength="29" lengthAdjust="spacingAndGlyphs">TAOKT</text>
<rect x="165.5" y="513.5" width="35" height="12" fill="none" stroke="#1818a0"/>
<rect x="178.5" y="512.5" width="52" height="13" fill="none" stroke="#000000"/>
<text x="198" y="526" fill="#38d8e0" font-size="22.9" font-family="Liberation Serif" textLength="47" lengthAdjust="spacingAndGlyphs">D02</text>
<text x="202" y="526" fill="#000000" font-size="22.9" font-family="Liberation Serif" textLength="56" lengthAdjust="spacingAndGlyphs">D026</text>
<text x="196" y="526" fill="#1010c0" font-size="21.4" font-family="Liberation Serif" textLength="39" lengthAdjust="spacingAndGlyphs">D02</text>
<text x="203" y="524" fill="#d828d8" font-size="10.6" font-family="Liberation Mono" font-weight="bold" textLength="25" lengthAdjust="spacingAndGlyphs">SD2</text>
<rect x="161.5" y="527.5" width="99" height="21" fill="none" stroke="#000000"/>
<rect x="163" y="526" width="88" height="1" fill="#48c848"/>
<text x="158" y="547" fill="#d828d8" font-size="12.1" font-family="Liberation Mono" font-weight="bold" textLength="42" lengthAdjust="spacingAndGlyphs">SS1SS</text>
<text x="160" y="544" fill="#d828d8" font-size="10.6" font-family="Liberation Mono" font-weight="bold" textLength="45" lengthAdjust="spacingAndGlyphs">S1S2S</text>
<text x="170" y="548" fill="#1010c0" font-size="10.6" font-family="Liberation Mono" font-weight="bold" textLength="70" lengthAdjust="spacingAndGlyphs">SAR1A15</text>
<text x="160" y="550" fill="#38d8e0" font-size="9.1" font-family="Liberation Mono" font-weight="bold" textLength="70" lengthAdjust="spacingAndGlyphs">SSSR1S2S</text>
<rect x="161" y="539" width="100" height="1" fill="#1818a0"/>
<text x="200" y="546" fill="#38d038" font-size="24.4" font-family="Liberation Serif" textLength="62" lengthAdjust="spacingAndGlyphs">Z1A1Z</text>
<text x="178" y="547" fill="#d81818" font-size="24.4" font-family="Liberation Serif" textLength="104" lengthAdjust="spacingAndGlyphs">SZ1AEZ3</text>
<text x="158" y="549" fill="#d828d8" font-size="13.6" font-family="Liberation Mono" font-weight="bold" textLength="74" lengthAdjust="spacingAndGlyphs">SSRSA1S</text>
<text x="165" y="548" fill="#1010c0" font-size="10.6" font-family="Liberation Mono" font-weight="bold" textLength="70" lengthAdjust="spacingAndGlyphs">S2R1A2S</text>
<text x="255" y="551" fill="#d828d8" font-size="21.4" font-family="Liberation Serif" textLength="27" lengthAdjust="spacingAndGlyphs">33</text>
<text x="230" y="549" fill="#38d8e0" font-size="24.4" font-family="Liberation Serif" textLength="52" lengthAdjust="spacingAndGlyphs">3.3</text>
<text x="174" y="567" fill="#000000" font-size="22.9" font-family="Liberation Serif" textLength="54" lengthAdjust="spacingAndGlyphs">MICR</text>
<rect x="158.5" y="550.5" width="27" height="18" fill="none" stroke="#000000"/>
<rect x="165" y="675" width="14" height="1" fill="#b42828"/>
<text x="178" y="680" fill="#d81818" font-size="10.6" font-family="Liberation Mono" font-weight="bold" textLength="22" lengthAdjust="spacingAndGlyphs">Start</text>
<text x="390" y="741" fill="#000000" font-size="10.6" font-family="Liberation Mono" font-weight="bold" textLength="60" lengthAdjust="spacingAndGlyphs">S2S1SZR1S</text>
<text x="350" y="740" fill="#d81818" font-size="9.1" font-family="Liberation Mono" font-weight="bold" textLength="70" lengthAdjust="spacingAndGlyphs">SZ1S2S3</text>
<text x="420" y="742" fill="#20e020" font-size="12.1" font-family="Liberation Mono" font-weight="bold" textLength="80" lengthAdjust="spacingAndGlyphs">S1S2DMS-2</text>
<text x="500" y="743" fill="#1010c0" font-size="10.6" font-family="Liberation Mono" font-weight="bold" textLength="55" lengthAdjust="spacingAndGlyphs">S1D1S2-1</text>
</svg></body></html>
